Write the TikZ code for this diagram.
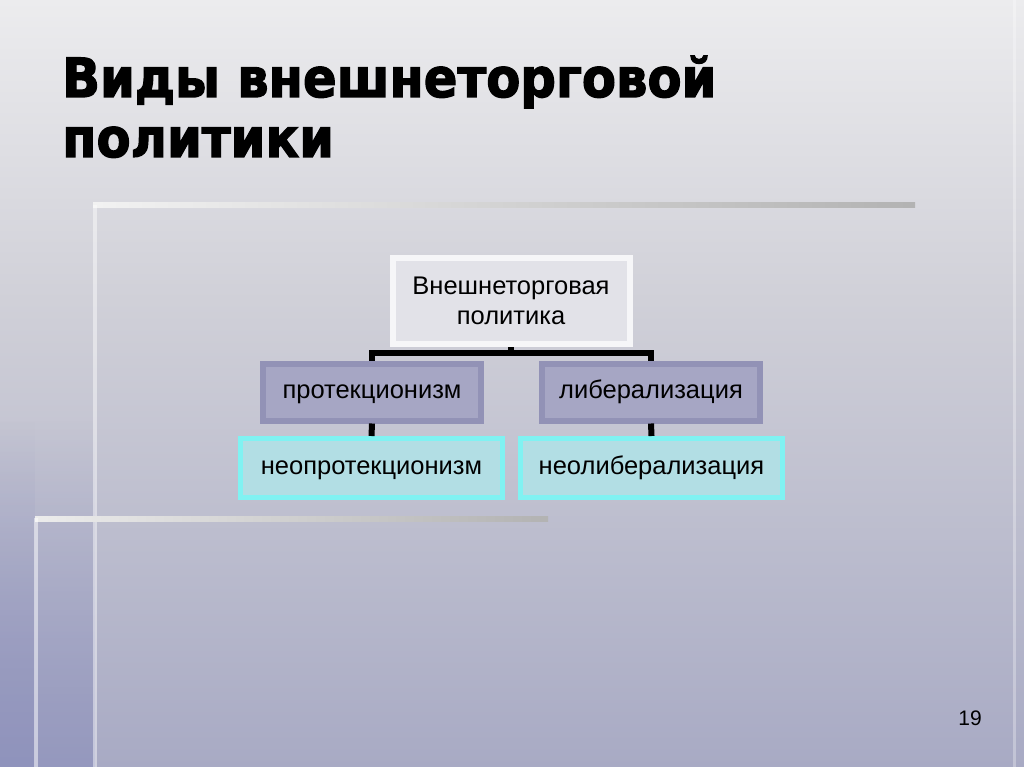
\documentclass[tikz,border=0pt]{standalone}
\usepackage{fontspec}
\usepackage{graphicx}
\setmainfont{Liberation Sans}
\newfontfamily\titlefont{DejaVu Sans}
\usetikzlibrary{fadings}
\definecolor{bgtop}{RGB}{236,236,238}
\definecolor{bgmid}{RGB}{208,208,216}
\definecolor{bgbot}{RGB}{168,170,196}
\definecolor{leftblue}{RGB}{136,140,186}
\definecolor{topborder}{RGB}{246,246,248}
\definecolor{topfill}{RGB}{226,226,232}
\definecolor{midborder}{RGB}{146,146,182}
\definecolor{midfill}{RGB}{166,166,196}
\definecolor{lowborder}{RGB}{128,242,242}
\definecolor{lowfill}{RGB}{178,222,228}
\tikzset{
  bodyfont/.style={font=\fontsize{25.5}{30}\selectfont},
  topbox/.style={bodyfont, draw=topborder, line width=6pt, fill=topfill, minimum width=237pt, minimum height=86pt, align=center, inner sep=0pt},
  midbox/.style={bodyfont, draw=midborder, line width=6pt, fill=midfill, minimum width=218pt, minimum height=57pt, inner sep=0pt, text height=18pt, text depth=5pt},
  lowbox/.style={bodyfont, draw=lowborder, line width=5pt, fill=lowfill, minimum width=262pt, minimum height=59pt, inner sep=0pt, text height=18pt, text depth=5pt},
  conn/.style={draw=black, line width=6pt},
  titletext/.style={font=\titlefont\bfseries\fontsize{54}{60}\selectfont, anchor=base west, inner sep=0pt}
}
\newcommand{\sqz}[1]{\special{pdf:literal direct 2 Tr 1.3 w 0 G}\scalebox{0.92}[1]{#1}\special{pdf:literal direct 0 Tr}}
\begin{document}
\begin{tikzpicture}[x=1pt,y=-1pt]
\useasboundingbox (0,0) rectangle (1024,767);
% background
\shade[top color=bgtop, bottom color=bgmid] (0,0) rectangle (1024,300);
\shade[top color=bgmid, bottom color=bgbot] (0,300) rectangle (1024,767);
% decorative bars
\fill[leftblue, path fading=north, opacity=0.6] (0,420) rectangle (95,767);
\fill[leftblue, path fading=north, opacity=0.4] (0,420) rectangle (35,767);
\shade[left color=gray!10, right color=gray!60] (93,203) rectangle (915,208);
\fill[white, opacity=0.45] (93,205) rectangle (97,767);
\shade[left color=gray!15, right color=gray!60] (35,516) rectangle (548,521);
\fill[white, opacity=0.5] (34,518) rectangle (38,767);
\fill[white, opacity=0.3] (1013,0) rectangle (1016,767);
% title
\node[titletext] (t1) at (62,97) {\sqz{Виды внешнеторговой}};
\node[titletext] (t2) at (62,157) {\sqz{политики}};
% nodes
\node[topbox] (top) at (511,301) {Внешнеторговая\\политика};
\node[midbox] (p) at (372,392) {протекционизм};
\node[midbox] (l) at (651,392) {либерализация};
\node[lowbox] (np) at (371.5,468) {неопротекционизм};
\node[lowbox] (nl) at (651.5,468) {неолиберализация};
\coordinate (j) at (511,353);
% connectors
\draw[conn] (top.south) -- (j);
\draw[conn] (p.north) |- (j) -| (l.north);
\draw[conn] (p.south) -- (np.north);
\draw[conn] (l.south) -- (nl.north);
% page number
\node[font=\fontsize{21}{24}\selectfont] (num) at (970,718) {19};
\end{tikzpicture}
\end{document}
